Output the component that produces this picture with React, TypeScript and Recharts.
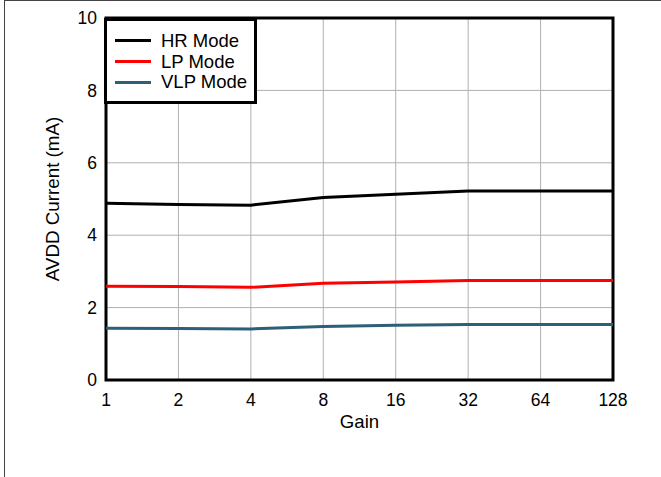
import React from 'react';
import { LineChart, Line, XAxis, YAxis, CartesianGrid, ReferenceArea } from 'recharts';

const gains = ['1', '2', '4', '8', '16', '32', '64', '128'];
const hrMode = [4.88, 4.85, 4.83, 5.04, 5.13, 5.22, 5.22, 5.22];
const lpMode = [2.59, 2.58, 2.56, 2.67, 2.71, 2.75, 2.75, 2.75];
const vlpMode = [1.43, 1.42, 1.41, 1.48, 1.51, 1.53, 1.53, 1.53];
const yTicks = [0, 2, 4, 6, 8, 10];

const series = [
  { key: 'hr', name: 'HR Mode', color: '#000000', values: hrMode },
  { key: 'lp', name: 'LP Mode', color: '#ff0000', values: lpMode },
  { key: 'vlp', name: 'VLP Mode', color: '#2e5f78', values: vlpMode },
];

const data = gains.map((g, i) => {
  const row: any = { gain: g };
  series.forEach((s) => (row[s.key] = s.values[i]));
  return row;
});

const FONT = '"Liberation Sans", Arial, sans-serif';

const YLabel = (props: any) => {
  const vb = props.viewBox || {};
  const x = vb.x + 12.5;
  const y = vb.y + vb.height / 2;
  return (
    <text x={x} y={y} transform={`rotate(-90 ${x} ${y})`} textAnchor="middle" fontSize={18.8} fontFamily={FONT} fill="#000">
      AVDD Current (mA)
    </text>
  );
};

const XLabel = (props: any) => {
  const vb = props.viewBox || {};
  return (
    <text x={vb.x + vb.width / 2} y={vb.y + 48} textAnchor="middle" fontSize={18.6} fontFamily={FONT} fill="#000">
      Gain
    </text>
  );
};

export default function App() {
  return (
    <div style={{ position: 'fixed', left: 0, top: 0, width: 661, height: 477, background: '#fff', overflow: 'hidden' }}>
      <div style={{ position: 'absolute', left: 4, top: 0, width: 700, height: 500, borderTop: '1px solid #444', borderLeft: '1px solid #444' }} />
      <LineChart width={661} height={477} data={data} margin={{ top: 18, right: 48, bottom: 47, left: 46 }}>
        <CartesianGrid stroke="#b0b0b0" strokeWidth={1} horizontalValues={[2, 4, 6, 8]} />
        <XAxis
          dataKey="gain"
          height={50}
          tickSize={0}
          tickMargin={14}
          axisLine={false}
          tick={{ fill: '#000', fontSize: 17.5, fontFamily: FONT }}
          interval={0}
          label={<XLabel />}
        />
        <YAxis
          domain={[0, 10]}
          ticks={yTicks}
          width={60}
          tickSize={0}
          tickMargin={9}
          axisLine={false}
          tick={{ fill: '#000', fontSize: 17.5, fontFamily: FONT }}
          label={<YLabel />}
        />
        {series.map((s) => (
          <Line
            key={s.key}
            dataKey={s.key}
            name={s.name}
            stroke={s.color}
            strokeWidth={3}
            dot={false}
            type="linear"
            isAnimationActive={false}
          />
        ))}
        <ReferenceArea x1="1" x2="128" y1={0} y2={10} fill="none" stroke="#000" strokeWidth={3} fillOpacity={0} />
      </LineChart>
      <div
        style={{
          position: 'absolute',
          left: 104,
          top: 18,
          width: 147,
          height: 70.35,
          border: '3px solid #000',
          background: '#fff',
          fontFamily: FONT,
          fontSize: 18.5,
          paddingTop: 9.65,
          boxSizing: 'content-box',
        }}
      >
        {series.map((s) => (
          <div key={s.key} style={{ display: 'flex', alignItems: 'center', height: 20.7 }}>
            <div style={{ marginLeft: 8, width: 36, height: 3, background: s.color }} />
            <span style={{ marginLeft: 10, lineHeight: '20px', color: '#000', whiteSpace: 'nowrap' }}>{s.name}</span>
          </div>
        ))}
      </div>
    </div>
  );
}
